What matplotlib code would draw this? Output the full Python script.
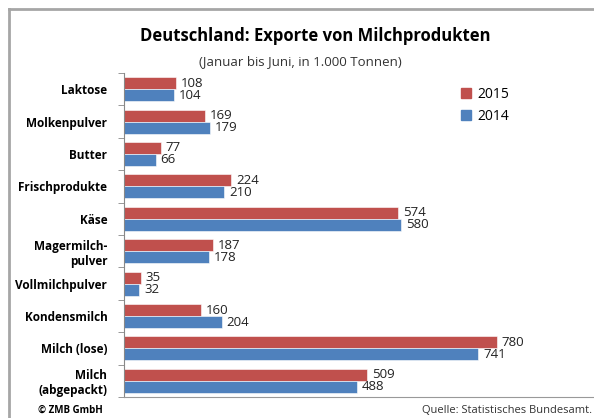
import matplotlib
matplotlib.use('Agg')
import matplotlib.pyplot as plt
import numpy as np
from matplotlib.lines import Line2D
from matplotlib.patches import Patch

plt.rcParams['font.family'] = ['Open Sans', 'DejaVu Sans']

# data (1.000 Tonnen, Januar bis Juni)
categories = ['Laktose', 'Molkenpulver', 'Butter', 'Frischprodukte', 'Käse',
              'Magermilch-\npulver', 'Vollmilchpulver', 'Kondensmilch',
              'Milch (lose)', 'Milch\n(abgepackt)']
v2015 = [108, 169, 77, 224, 574, 187, 35, 160, 780, 509]
v2014 = [104, 179, 66, 210, 580, 178, 32, 204, 741, 488]

red = '#C0504D'
blue = '#4F81BD'

fig = plt.figure(figsize=(5.94, 4.18), dpi=100)
ax = fig.add_axes([0.2088, 0.0502, 0.7912, 0.7752])

y = np.arange(len(categories))
h = 0.37
ax.barh(y - h / 2, v2015, height=h, color=red, edgecolor='white', linewidth=0.4)
ax.barh(y + h / 2, v2014, height=h, color=blue, edgecolor='white', linewidth=0.4)

for i in range(len(categories)):
    ax.text(v2015[i] + 10, y[i] - h / 2, str(v2015[i]), va='center', ha='left',
            fontsize=9.5, color='#222222')
    ax.text(v2014[i] + 10, y[i] + h / 2, str(v2014[i]), va='center', ha='left',
            fontsize=9.5, color='#222222')

ax.set_ylim(len(categories) - 0.5, -0.5)
ax.set_xlim(0, 983)
ax.set_yticks(y)
ax.set_yticklabels(categories, fontsize=8.5, fontweight='bold', linespacing=1.2)
ax.set_yticks(np.arange(-0.5, len(categories)), minor=True)
ax.tick_params(axis='y', which='major', length=0, pad=12)
ax.tick_params(axis='y', which='minor', length=4, color='#888888', direction='out')
ax.set_xticks([])
for s in ['top', 'right']:
    ax.spines[s].set_visible(False)
ax.spines['left'].set_color('#888888')
ax.spines['bottom'].set_color('#999999')

# legend
ax.legend(handles=[Patch(color=red, label='2015'), Patch(color=blue, label='2014')],
          loc='upper left', bbox_to_anchor=(0.69, 0.995), frameon=False,
          fontsize=10, handlelength=0.7, handleheight=0.7, handletextpad=0.5,
          labelspacing=0.5)

fig.text(0.53, 0.915, 'Deutschland: Exporte von Milchprodukten', ha='center',
         va='center', fontsize=12, fontweight='bold')
fig.text(0.505, 0.853, '(Januar bis Juni, in 1.000 Tonnen)', ha='center',
         va='center', fontsize=9.5, color='#333333')
fig.text(0.064, 0.018, '© ZMB GmbH', ha='left', va='center', fontsize=7,
         fontweight='bold')
fig.text(0.71, 0.018, 'Quelle: Statistisches Bundesamt.', ha='left', va='center',
         fontsize=8, color='#333333')

# outer frame
fig.add_artist(Line2D([9 / 594, 9 / 594], [0, 1 - 9 / 418], transform=fig.transFigure,
                      color='#A6A6A6', linewidth=2))
fig.add_artist(Line2D([9 / 594, 1], [1 - 9 / 418, 1 - 9 / 418], transform=fig.transFigure,
                      color='#A6A6A6', linewidth=2))

fig.savefig('out.png', dpi=100)
